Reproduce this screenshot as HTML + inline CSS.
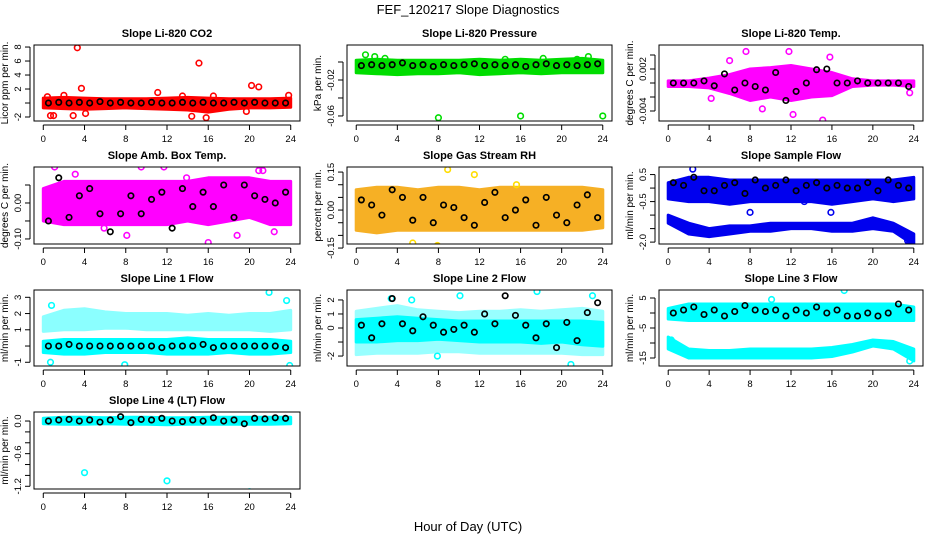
<!DOCTYPE html>
<html><head><meta charset="utf-8"><style>
html,body{margin:0;padding:0;background:#fff;width:936px;height:540px;overflow:hidden}
svg text{font-family:"Liberation Sans",sans-serif;fill:#000}
</style></head><body>
<svg id="chart" width="936" height="540" viewBox="0 0 936 540" xmlns="http://www.w3.org/2000/svg">
<text x="468" y="14" font-size="13" text-anchor="middle">FEF_120217  Slope Diagnostics</text>
<text x="468" y="531" font-size="13" text-anchor="middle">Hour of Day (UTC)</text>
</svg>
<script>
const bandHours=[0,2,4,6,8,10,12,14,16,18,20,22,24];
const blackHours=[0.5,1.5,2.5,3.5,4.5,5.5,6.5,7.5,8.5,9.5,10.5,11.5,12.5,13.5,14.5,15.5,16.5,17.5,18.5,19.5,20.5,21.5,22.5,23.5];
const xTicks=[0,4,8,12,16,20,24];
const panelTitles=["Slope Li-820 CO2","Slope Li-820 Pressure","Slope Li-820 Temp.","Slope Amb. Box Temp.","Slope Gas Stream RH","Slope Sample Flow","Slope Line 1 Flow","Slope Line 2 Flow","Slope Line 3 Flow","Slope Line 4 (LT) Flow"];
const yTitles=["Licor ppm per min.","kPa per min.","degrees C per min.","degrees C per min.","percent per min.","ml/min per min.","ml/min per min.","ml/min per min.","ml/min per min.","ml/min per min."];
const yDomains=[[-2.57,8.29],[-0.0656,0.0189],[-0.00543,0.00543],[-0.114,0.1],[-0.134,0.17],[-2.07,0.78],[-1.23,3.45],[-2.71,2.71],[-17.67,7.67],[-1.25,0.166]];
const yTickVals=[[-2,0,2,4,6,8],[-0.06,-0.04,-0.02,0],[-0.004,-0.002,0,0.002,0.004],[-0.1,-0.05,0,0.05],[-0.15,-0.1,-0.05,0,0.05,0.1,0.15],[-2,-1.5,-1,-0.5,0,0.5],[-1,0,1,2,3],[-2,-1,0,1,2],[-15,-10,-5,0,5],[-1.2,-1,-0.8,-0.6,-0.4,-0.2,0]];
const yTickLabels=[["-2","","2","4","6","8"],["-0.06","","-0.02",""],["-0.004","","","0.002",""],["-0.10","","0.00",""],["-0.15","","","0.00","","","0.15"],["-2.0","","","-0.5","","0.5"],["-1","","1","2","3"],["-2","","0","1","2"],["-15","","-5","","5"],["-1.2","","","-0.6","","","0.0"]];
const colors=["#ff0000","#00dd00","#ff00ff","#ff00ff","#f5a300","#0000ee","#00ffff","#00ffff","#00ffff","#00ffff"];
const band1Lo=[[-0.7,-0.8,-0.9,-0.8,-0.7,-0.8,-0.9,-1.0,-1.3,-0.9,-0.7,-0.7,-0.6],[-0.012,-0.013,-0.014,-0.013,-0.013,-0.012,-0.014,-0.013,-0.012,-0.013,-0.012,-0.012,-0.012],[-0.0005,-0.0005,-0.0007,-0.0015,-0.0025,-0.002,-0.0025,-0.002,-0.0018,-0.0005,-0.0003,-0.0003,-0.0005],[-0.05,-0.06,-0.06,-0.06,-0.06,-0.06,-0.06,-0.05,-0.06,-0.05,-0.04,-0.06,-0.06],[-0.08,-0.09,-0.08,-0.08,-0.08,-0.08,-0.08,-0.08,-0.08,-0.08,-0.08,-0.08,-0.07],[-0.4,-0.5,-0.5,-0.6,-0.5,-0.5,-0.5,-0.5,-0.6,-0.5,-0.4,-0.5,-0.4],[-0.4,-0.5,-0.5,-0.4,-0.4,-0.4,-0.5,-0.5,-0.5,-0.4,-0.5,-0.5,-0.4],[-1,-1,-0.9,-0.9,-0.8,-0.9,-1,-1,-1,-1.1,-1,-1.2,-1.3],[-2,-2.5,-2.5,-2.5,-2.5,-2.5,-2.5,-2.5,-2.5,-2.5,-2.5,-2.5,-2.5],[-0.05,-0.06,-0.06,-0.05,-0.06,-0.06,-0.07,-0.06,-0.06,-0.06,-0.06,-0.06,-0.05]];
const band1Hi=[[0.7,0.8,0.7,0.6,0.6,0.6,0.7,0.8,0.7,0.6,0.6,0.6,0.7],[0.002,0.003,0.002,0.002,0.002,0.002,0.003,0.002,0.003,0.002,0.003,0.004,0.002],[0.0003,0.0003,0.0007,0.0012,0.002,0.0022,0.0025,0.002,0.0015,0.0006,0.0003,0.0003,0.0003],[0.04,0.06,0.06,0.06,0.06,0.06,0.06,0.06,0.07,0.07,0.07,0.06,0.06],[0.08,0.09,0.09,0.08,0.09,0.09,0.08,0.09,0.09,0.09,0.09,0.09,0.08],[0.2,0.4,0.4,0.3,0.3,0.3,0.3,0.3,0.3,0.3,0.3,0.3,0.4],[0.3,0.4,0.4,0.4,0.4,0.4,0.4,0.5,0.4,0.4,0.4,0.4,0.3],[0.6,0.7,0.8,0.7,0.6,0.5,0.5,0.5,0.5,0.5,0.5,0.5,0.4],[1.5,3,3,3,3,3,3,3,3,3,3,3,2],[0.05,0.07,0.07,0.06,0.07,0.07,0.06,0.06,0.07,0.07,0.07,0.07,0.07]];
const band2Lo=[null,null,null,null,null,[-1.3,-1.7,-1.8,-1.7,-1.6,-1.6,-1.5,-1.5,-1.6,-1.6,-1.5,-1.6,-2.1],[0.9,1.0,1.0,1.1,1.1,1.0,1.0,1.0,1.0,1.0,1.0,0.9,1.0],[-1.9,-1.8,-1.8,-1.8,-1.7,-1.7,-1.8,-1.8,-1.8,-1.8,-1.8,-1.9,-1.9],[-12,-15,-15,-15,-15,-15,-15,-15,-14.5,-13,-11,-12,-16],null];
const band2Hi=[null,null,null,null,null,[-1.0,-1.3,-1.5,-1.4,-1.4,-1.3,-1.3,-1.3,-1.3,-1.3,-1.1,-1.3,-1.7],[1.8,2.2,2.3,2.1,2.0,2.0,2.0,1.9,2.0,1.9,2.0,2.0,2.2],[1.2,1.4,1.6,1.3,1.2,1.1,1.2,1.2,1.3,1.2,1.3,1.4,1.2],[-8,-12,-12.5,-12.5,-12,-12,-12,-12,-11.5,-10.5,-9,-9.5,-12],null];
const band2Op=[0,0,0,0,0,1,0.45,0.4,1,0];
const outX=[[3.3,15.1,3.7,20.2,20.9,0.7,1,2.9,4.1,11.1,14.4,15.8,16.5,23.8,19.7,13.5,0.4,2],[8,16,24,0.9,1.8,21.5,2.8,14.5,18.2,22.6],[7.6,11.8,15.8,12.2,9.2,15.1,4.2,23.6,6],[1.1,11.7,16,5.9,8.1,20.9,22.4,18.8,3.1,9.5,13.9,21.3],[19,8.9,0.4,5.5,7.9,15.6,11.5],[2.4,8,15.9,13.3,23.6,23.4],[21.9,23.9,7.9,0.7,23.6,0.8],[17.6,23,7.9,3.4,20.9,5.4,10.1],[17.2,10.1,23.6,0.3],[4,12,20]];
const outY=[[7.9,5.7,2.1,2.5,2.3,-1.8,-1.8,-1.8,-1.5,1.5,-1.9,-2.1,1.0,1.1,-1.2,1.0,0.9,1.1],[-0.062,-0.06,-0.06,0.008,0.006,0.003,0.004,0.003,0.004,0.006],[0.0045,0.0045,0.0037,-0.0045,-0.0037,-0.0053,-0.0022,-0.0014,0.0032],[0.1,0.1,-0.11,-0.07,-0.09,0.09,-0.08,-0.09,0.08,0.1,0.07,0.09],[0.19,0.16,-0.15,-0.13,-0.14,0.1,0.14],[0.7,-0.9,-0.9,-0.5,-2.0,-1.95],[3.3,-1.2,-1.15,-1.0,2.8,2.5],[2.6,2.3,-2.0,2.1,-2.6,2.0,2.3],[7.5,4.5,-16,-9],[-0.95,-1.1,-1.3]];
const blackVals=[[0,0.1,0,0.1,0,0.2,0,0.1,0,0,0.1,0,0,0.1,0,0.1,0,0,0.1,0,0.1,0,0,0],[-0.004,-0.003,-0.004,-0.003,-0.001,-0.004,-0.003,-0.005,-0.003,-0.004,-0.003,-0.002,-0.004,-0.003,-0.004,-0.003,-0.005,-0.003,-0.002,-0.004,-0.003,-0.004,-0.003,-0.002],[0,0,0,0.0003,-0.0004,0.0013,-0.001,0,-0.0005,-0.001,0.0015,-0.0025,-0.0012,0,0.0019,0.002,0,0,0.0003,0,0,0,0,-0.0005],[-0.05,0.07,-0.04,0.02,0.04,-0.03,-0.08,-0.03,0.02,-0.03,0.01,0.03,-0.07,0.04,-0.01,0.03,-0.01,0.05,-0.04,0.05,0.02,0.01,0,0.03],[0.04,0.02,-0.02,0.08,0.05,-0.04,0.05,-0.05,0.02,0.01,-0.03,-0.06,0.03,0.07,-0.03,0,0.04,-0.06,0.05,-0.02,-0.05,0.02,0.06,-0.03],[0.2,0.1,0.4,-0.1,-0.1,0.1,0.2,-0.2,0.3,0.0,0.1,0.3,-0.1,0.1,0.2,0.0,0.1,0.0,0.0,0.2,-0.1,0.3,0.1,0.0],[0,0,0.1,0,0,0,0,0,0,0,0,-0.1,0,0,0,0.1,-0.1,0,0,0,0,0,0,-0.1],[0.2,-0.7,0.3,2.1,0.3,-0.2,0.8,0.2,-0.3,-0.1,0.2,-0.3,1.0,0.3,2.3,0.9,0.2,-0.7,0.3,-1.4,0.4,-0.9,1.1,1.8],[0,1,2,-0.5,1,-1,0.5,2.5,1,0.5,1,-1,1,0,2,0,1,-1,-1,0,-1,0,3,1],[0,0.02,0.03,0,0.02,-0.02,0.02,0.08,-0.03,0.03,0.02,0.05,0,-0.01,0.02,0,0.06,0,0.02,-0.05,0.05,0.04,0.06,0.05]];

const NS="http://www.w3.org/2000/svg";
const svg=document.getElementById('chart');
const colX=[[34,300],[347,612],[659,923]];
const rowY=[[45,121],[167,244],[290,366],[412,489]];
function mk(tag,attrs,parent){const e=document.createElementNS(NS,tag);for(const k in attrs)e.setAttribute(k,attrs[k]);(parent||svg).appendChild(e);return e;}
function slug(s){return s.toLowerCase().replace(/[^a-z0-9]+/g,'-').replace(/^-|-$/g,'');}
for(let p=0;p<10;p++){
  const c=colX[p%3],r=rowY[Math.floor(p/3)];
  const x0=c[0],x1=c[1],y0=r[0],y1=r[1];
  const xs=v=>x0+(v+0.9)/(25.8)*(x1-x0);
  const [dmin,dmax]=yDomains[p];
  const ys=v=>y1-(v-dmin)/(dmax-dmin)*(y1-y0);
  const g=mk('g',{});
  
  
  const clipId='clip'+p;
  const cp=mk('clipPath',{id:clipId},g);mk('rect',{x:x0,y:y0,width:x1-x0,height:y1-y0},cp);
  const plot=mk('g',{'clip-path':'url(#'+clipId+')'},g);
  function band(lo,hi,op,nm){
    let d='';bandHours.forEach((h,i)=>{d+=(i?'L':'M')+xs(h).toFixed(1)+','+ys(hi[i]).toFixed(1);});
    for(let i=bandHours.length-1;i>=0;i--)d+='L'+xs(bandHours[i]).toFixed(1)+','+ys(lo[i]).toFixed(1);
    const b=mk('path',{d:d+'Z',fill:colors[p],stroke:colors[p],'stroke-width':3,'stroke-linejoin':'round',opacity:op},plot);
    
    
  }
  band(band1Lo[p],band1Hi[p],p===4?0.85:1,'point-cloud');
  if(band2Lo[p])band(band2Lo[p],band2Hi[p],band2Op[p],'point-cloud-secondary');
  outX[p].forEach((h,i)=>{
    const o=mk('circle',{cx:xs(h),cy:ys(outY[p][i]),r:2.8,fill:'none',stroke:p===4?'#ffdd00':colors[p],'stroke-width':1.6},plot);
    
    
  });
  blackHours.forEach((h,i)=>{
    const b=mk('circle',{cx:xs(h),cy:ys(blackVals[p][i]),r:2.7,fill:'none',stroke:'#000','stroke-width':1.7},plot);
    
    
  });
  const fr=mk('rect',{x:x0,y:y0,width:x1-x0,height:y1-y0,fill:'none',stroke:'#000','stroke-width':1},g);
  
  
  const xa=mk('g',{},g);
  
  
  mk('line',{x1:xs(0),x2:xs(24),y1:y1+4,y2:y1+4,stroke:'#000'},xa);
  xTicks.forEach(t=>{mk('line',{x1:xs(t),x2:xs(t),y1:y1+4,y2:y1+9,stroke:'#000'},xa);
    const tx=mk('text',{x:xs(t),y:y1+21,'font-size':9.5,'text-anchor':'middle'},xa);tx.textContent=t;
    
    });
  const ya=mk('g',{},g);
  
  
  const tv=yTickVals[p];
  mk('line',{x1:x0-4,x2:x0-4,y1:ys(tv[0]),y2:ys(tv[tv.length-1]),stroke:'#000'},ya);
  tv.forEach((t,i)=>{const yy=ys(t);mk('line',{x1:x0-9,x2:x0-4,y1:yy,y2:yy,stroke:'#000'},ya);
    const lb=yTickLabels[p][i];if(lb){const tx=mk('text',{x:0,y:0,'font-size':9.5,'text-anchor':'middle',transform:`translate(${x0-13},${yy}) rotate(-90)`},ya);tx.textContent=lb;
    
    }});
  const yt=mk('text',{x:0,y:0,'font-size':10,'text-anchor':'middle',transform:`translate(${x0-26},${(y0+y1)/2}) rotate(-90)`},g);
  yt.textContent=yTitles[p];
  
  
  const tt=mk('text',{x:(x0+x1)/2,y:y0-8,'font-size':11,'font-weight':'bold','text-anchor':'middle'},g);
  tt.textContent=panelTitles[p];
  
  
}
</script>
</body></html>
